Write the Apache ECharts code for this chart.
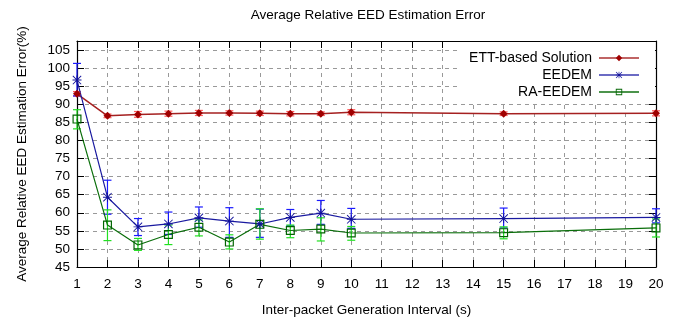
<!DOCTYPE html>
<html>
<head>
<meta charset="utf-8">
<script src="https://cdn.jsdelivr.net/npm/echarts@6/dist/echarts.min.js"></script>
<style>
  html, body { margin: 0; padding: 0; background: #fff; }
  #main { width: 686px; height: 322px; }
</style>
</head>
<body>
<div id="main"></div>
<script>
// x positions (inter-packet generation interval, s)
const intervals = [1, 2, 3, 4, 5, 6, 7, 8, 9, 10, 15, 20];

// ETT-based Solution
const ettMean = [92.9, 86.8, 87.2, 87.4, 87.6, 87.6, 87.5, 87.4, 87.4, 87.8, 87.4, 87.5];
const ettLow  = [92.3, 86.3, 86.4, 86.7, 86.9, 87.0, 86.9, 86.8, 86.9, 87.1, 86.9, 86.8];
const ettHigh = [93.5, 87.3, 88.0, 88.1, 88.3, 88.2, 88.1, 88.0, 87.9, 88.5, 87.9, 88.2];

// EEDEM
const eedemMean = [96.7, 64.3, 56.1, 56.9, 58.6, 57.7, 56.9, 58.7, 59.9, 58.2, 58.4, 58.7];
const eedemLow  = [92.3, 59.6, 53.7, 54.0, 56.0, 53.2, 53.2, 56.4, 56.8, 55.7, 55.8, 57.2];
const eedemHigh = [101.3, 69.0, 58.4, 60.2, 61.6, 61.4, 61.0, 60.9, 63.4, 61.2, 61.3, 61.1];

// RA-EEDEM
const raMean = [85.9, 56.6, 51.1, 54.0, 56.0, 51.9, 56.8, 55.1, 55.5, 54.4, 54.5, 55.8];
const raLow  = [83.2, 52.3, 49.6, 51.2, 53.6, 50.0, 52.7, 53.1, 52.2, 52.4, 52.8, 53.3];
const raHigh = [88.5, 60.8, 52.9, 56.6, 58.0, 53.9, 61.1, 56.6, 58.6, 56.2, 56.1, 58.3];

const seriesNames = ['ETT-based Solution', 'EEDEM', 'RA-EEDEM'];

const FONT = 'Liberation Sans, Arial, sans-serif';
const FS = 13.5;
const starPath = 'path://M9,0L11,0L11,20L9,20Z M0,9L20,9L20,11L0,11Z ' +
  'M0,1.4L1.4,0L20,18.6L18.6,20Z M18.6,0L20,1.4L1.4,20L0,18.6Z';
// hollow square as a ring so the outline stays thin
const squarePath = 'path://M0,0L10,0L10,10L0,10Z M1.3,1.3L1.3,8.7L8.7,8.7L8.7,1.3Z';

const pairs = (ys) => intervals.map((x, i) => [x, ys[i]]);
const bars = (lo, hi) => intervals.map((x, i) => [x, lo[i], hi[i]]);

function errorBars(name, lo, hi, color) {
  return {
    type: 'custom',
    name: name + ' err',
    silent: true,
    z: 2,
    renderItem: function (params, api) {
      const top = api.coord([api.value(0), api.value(2)]);
      const bot = api.coord([api.value(0), api.value(1)]);
      const w = 4;
      const st = { stroke: color, lineWidth: 1.2 };
      return {
        type: 'group',
        children: [
          { type: 'line', shape: { x1: top[0], y1: top[1], x2: bot[0], y2: bot[1] }, style: st },
          { type: 'line', shape: { x1: top[0] - w, y1: top[1], x2: top[0] + w, y2: top[1] }, style: st },
          { type: 'line', shape: { x1: bot[0] - w, y1: bot[1], x2: bot[0] + w, y2: bot[1] }, style: st }
        ]
      };
    },
    encode: { x: 0, y: [1, 2] },
    data: bars(lo, hi)
  };
}

const chart = echarts.init(document.getElementById('main'));

const gridLine = { show: true, lineStyle: { color: '#999', type: [4, 4], width: 1 } };
const blackLine = { show: true, lineStyle: { color: '#000', width: 1.2 } };
const inTicks = { show: true, inside: true, length: 7, lineStyle: { color: '#000' } };

chart.setOption({
  animation: false,
  textStyle: { fontFamily: FONT, color: '#000' },
  title: {
    text: 'Average Relative EED Estimation Error',
    left: 363,
    top: 3,
    textAlign: 'center',
    textStyle: { fontSize: FS, fontWeight: 'normal', color: '#000', fontFamily: FONT }
  },
  grid: { left: 77, right: 30, top: 41, bottom: 54, show: false },
  legend: {
    data: [
      { name: seriesNames[0], lineStyle: { color: '#c06464', width: 2 } },
      { name: seriesNames[1], lineStyle: { color: '#3a3ab0', width: 1.5 } },
      { name: seriesNames[2], lineStyle: { color: '#107010', width: 1.5 } }
    ],
    orient: 'vertical',
    align: 'right',
    right: 31,
    top: 42,
    padding: [9, 15, 5, 12],
    itemGap: 3,
    itemWidth: 40,
    itemHeight: 8,
    backgroundColor: '#fff',
    textStyle: { fontSize: 14, color: '#000', fontFamily: FONT, padding: [0, 2, 0, 0] }
  },
  xAxis: [
    {
      type: 'value', min: 1, max: 20, interval: 1, position: 'bottom',
      name: 'Inter-packet Generation Interval (s)',
      nameLocation: 'middle', nameGap: 36,
      nameTextStyle: { fontSize: FS, color: '#000' },
      axisLine: blackLine,
      axisTick: inTicks,
      axisLabel: { color: '#000', fontSize: FS, margin: 10 },
      splitLine: gridLine
    },
    {
      type: 'value', min: 1, max: 20, interval: 1, position: 'top',
      axisLine: blackLine,
      axisTick: inTicks,
      axisLabel: { show: false },
      splitLine: { show: false }
    }
  ],
  yAxis: [
    {
      type: 'value', min: 45, max: 107.5, interval: 5, position: 'left',
      name: 'Average Relative EED Estimation Error(%)',
      nameLocation: 'middle', nameGap: 48, nameRotate: 90,
      nameTextStyle: { fontSize: FS, color: '#000' },
      axisLine: blackLine,
      axisTick: inTicks,
      axisLabel: {
        color: '#000', fontSize: FS, margin: 7,
        formatter: v => (v % 5 === 0 ? String(v) : '')
      },
      splitLine: gridLine
    },
    {
      type: 'value', min: 45, max: 107.5, interval: 5, position: 'right',
      axisLine: blackLine,
      axisTick: inTicks,
      axisLabel: { show: false },
      splitLine: { show: false }
    }
  ],
  series: [
    errorBars(seriesNames[0], ettLow, ettHigh, '#ff5a5a'),
    errorBars(seriesNames[1], eedemLow, eedemHigh, '#1a1aff'),
    errorBars(seriesNames[2], raLow, raHigh, '#22e022'),
    {
      type: 'line', name: seriesNames[0], z: 3,
      data: pairs(ettMean),
      symbol: 'diamond', symbolSize: 8,
      itemStyle: { color: '#a00000' },
      lineStyle: { color: '#a52020', width: 1.5 },
      emphasis: { disabled: true }
    },
    {
      type: 'line', name: seriesNames[1], z: 3,
      data: pairs(eedemMean),
      symbol: starPath, symbolSize: 9,
      itemStyle: { color: '#10109a' },
      lineStyle: { color: '#1a1aa0', width: 1.2 },
      emphasis: { disabled: true }
    },
    {
      type: 'line', name: seriesNames[2], z: 3,
      data: pairs(raMean),
      symbol: squarePath, symbolSize: 9,
      itemStyle: { color: '#006400' },
      lineStyle: { color: '#0a6e0a', width: 1.2 },
      emphasis: { disabled: true }
    }
  ]
});
</script>
</body>
</html>
